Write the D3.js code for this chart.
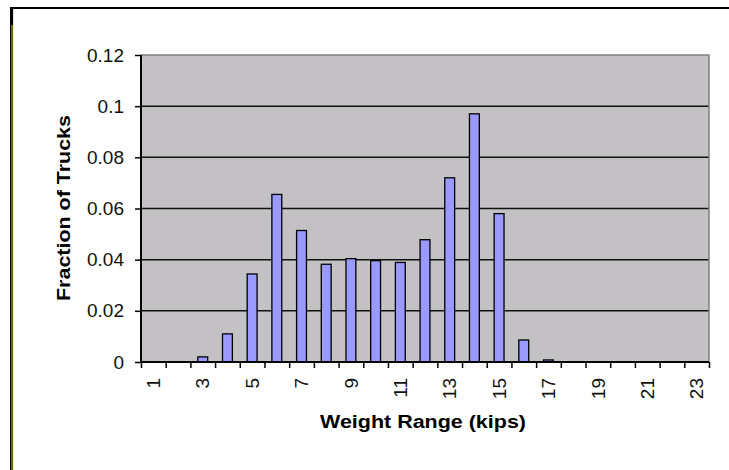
<!DOCTYPE html>
<html>
<head>
<meta charset="utf-8">
<script src="https://cdn.jsdelivr.net/npm/d3@7/dist/d3.min.js"></script>
<style>
  html, body { margin: 0; padding: 0; background: #fff; }
  svg { display: block; }
  text { font-family: "Liberation Sans", Arial, sans-serif; }
</style>
</head>
<body>
<svg id="chart" width="729" height="470"></svg>
<script>
// ---- data ----
const categories = ["1","2","3","4","5","6","7","8","9","10","11","12","13","14","15","16","17","18","19","20","21","22","23"];
const fractions = [0, 0, 0.002, 0.011, 0.0344, 0.0655, 0.0514, 0.0382, 0.0404, 0.0396, 0.0389, 0.0478, 0.072, 0.097, 0.058, 0.0086, 0.0008, 0, 0, 0, 0, 0, 0];
const yTickValues = [0, 0.02, 0.04, 0.06, 0.08, 0.1, 0.12];
const yTickLabels = ["0", "0.02", "0.04", "0.06", "0.08", "0.1", "0.12"];
const xTickLabels = ["1","3","5","7","9","11","13","15","17","19","21","23"];
const xTitle = "Weight Range (kips)";
const yTitle = "Fraction of Trucks";

// ---- layout ----
const svg = d3.select("#chart");
const plot = { left: 141, right: 709, top: 55, bottom: 362 };

// outer frame (top black line, left olive/black line)
svg.append("rect").attr("x", 10).attr("y", 7).attr("width", 719).attr("height", 2).attr("fill", "#000");
svg.append("rect").attr("x", 10).attr("y", 7).attr("width", 3).attr("height", 463).attr("fill", "#6e6a00");
svg.append("rect").attr("x", 10).attr("y", 7).attr("width", 1).attr("height", 463).attr("fill", "#000");
svg.append("rect").attr("x", 10).attr("y", 7).attr("width", 3).attr("height", 18).attr("fill", "#000");
svg.append("rect").attr("x", 13).attr("y", 9).attr("width", 1).attr("height", 461).attr("fill", "#e4e4e4");

const x = d3.scaleBand().domain(categories).range([plot.left, plot.right]).paddingInner(0).paddingOuter(0);
const xEdge = d3.scaleLinear().domain([0, categories.length]).range([plot.left, plot.right]);
const y = d3.scaleLinear().domain([0, 0.12]).range([plot.bottom, plot.top]);

// plot area background
svg.append("rect")
  .attr("x", plot.left).attr("y", plot.top)
  .attr("width", plot.right - plot.left).attr("height", plot.bottom - plot.top)
  .attr("fill", "#c3c1c3");

// gridlines
svg.append("g").selectAll("line")
  .data(yTickValues.filter(v => v > 0 && v < 0.12))
  .join("line")
  .attr("x1", plot.left).attr("x2", plot.right)
  .attr("y1", d => y(d)).attr("y2", d => y(d))
  .attr("stroke", "#111").attr("stroke-width", 1.5);

// plot border top/right (gray)
svg.append("path")
  .attr("d", `M${plot.left},${y(0.12)}H${plot.right}V${plot.bottom}`)
  .attr("fill", "none").attr("stroke", "#7f7f7f").attr("stroke-width", 1.5);

// bars
const barW = x.bandwidth() / 2.5;
svg.append("g").selectAll("rect")
  .data(categories.map((c, i) => ({ c, v: fractions[i] })).filter(d => d.v > 0))
  .join("rect")
  .attr("x", d => x(d.c) + (x.bandwidth() - barW) / 2)
  .attr("y", d => y(d.v))
  .attr("width", barW)
  .attr("height", d => y(0) - y(d.v))
  .attr("fill", "#9999ff")
  .attr("stroke", "#000")
  .attr("stroke-width", 1.3);

// y axis
const yAxis = svg.append("g")
  .attr("transform", `translate(${plot.left},0)`)
  .call(d3.axisLeft(y).tickValues(yTickValues).tickSize(6).tickPadding(11)
    .tickFormat((d, i) => yTickLabels[i]));
yAxis.select(".domain").attr("stroke", "#000").attr("stroke-width", 2).attr("d", `M0,${plot.top}V${plot.bottom}`);
yAxis.selectAll(".tick line").attr("stroke", "#000").attr("stroke-width", 1.5);
yAxis.selectAll(".tick text").attr("font-size", 19).attr("fill", "#111")
  .attr("font-family", "'Liberation Sans', Arial, sans-serif");

// x axis: tick marks at category boundaries
const xTicks = svg.append("g")
  .attr("transform", `translate(0,${plot.bottom})`)
  .call(d3.axisBottom(xEdge).tickValues(d3.range(0, categories.length + 1)).tickSize(6).tickFormat(""));
xTicks.select(".domain").attr("stroke", "#000").attr("stroke-width", 2).attr("d", `M${plot.left},0H${plot.right}`);
xTicks.selectAll(".tick line").attr("stroke", "#000").attr("stroke-width", 1.5);

// x axis labels (odd categories), rotated
const xLab = svg.append("g")
  .attr("transform", `translate(0,${plot.bottom})`)
  .call(d3.axisBottom(x).tickValues(xTickLabels).tickSize(0).tickPadding(0));
xLab.select(".domain").remove();
xLab.selectAll(".tick text")
  .attr("font-size", 19).attr("fill", "#111")
  .attr("font-family", "'Liberation Sans', Arial, sans-serif")
  .attr("text-anchor", "end")
  .attr("transform", "translate(0,16) rotate(-90)")
  .attr("x", 0).attr("y", 0).attr("dy", "0.35em");

// axis titles
svg.append("text")
  .attr("x", 423).attr("y", 428)
  .attr("text-anchor", "middle")
  .attr("font-size", 18).attr("font-weight", "bold").attr("fill", "#000")
  .attr("textLength", 206).attr("lengthAdjust", "spacingAndGlyphs")
  .text(xTitle);

svg.append("text")
  .attr("transform", "translate(70,208) rotate(-90)")
  .attr("text-anchor", "middle")
  .attr("font-size", 18).attr("font-weight", "bold").attr("fill", "#000")
  .attr("textLength", 186).attr("lengthAdjust", "spacingAndGlyphs")
  .text(yTitle);
</script>
</body>
</html>
